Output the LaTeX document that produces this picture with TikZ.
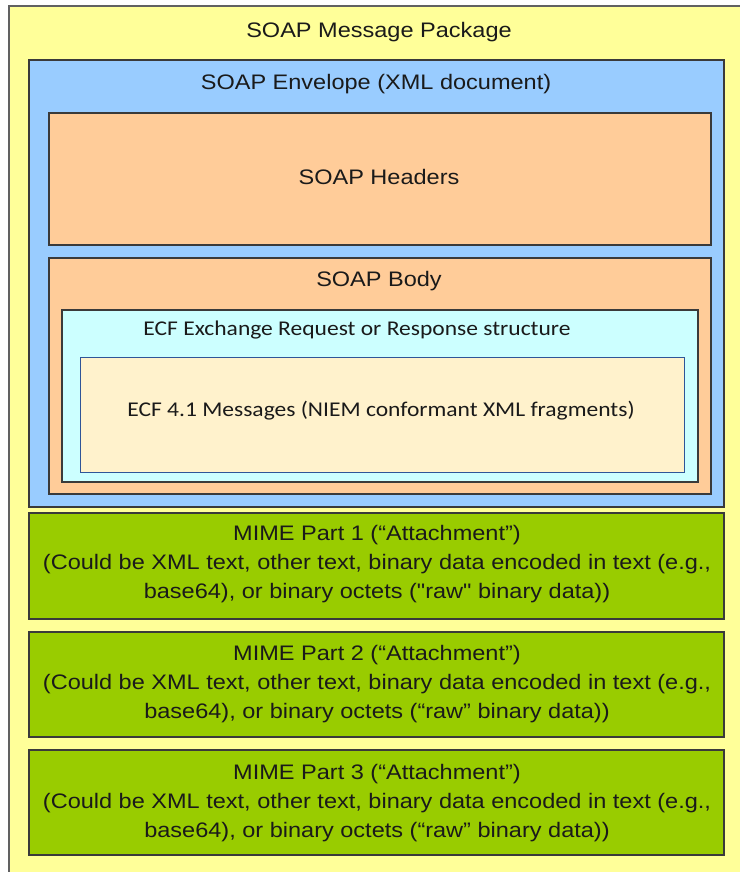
\documentclass[tikz,border=0pt]{standalone}
\usepackage{fontspec}
\setmainfont{Liberation Sans}[FakeStretch=1.12]
\newfontfamily\ecffont{Carlito}[FakeStretch=1.12]
\newfontfamily\qfont{Liberation Sans}[FakeStretch=1.12]
\usetikzlibrary{shadows}
\definecolor{pkgyellow}{HTML}{FFFF99}
\definecolor{envblue}{HTML}{99CCFF}
\definecolor{peach}{HTML}{FFCC99}
\definecolor{lcyan}{HTML}{CCFFFF}
\definecolor{cream}{HTML}{FFF2CC}
\definecolor{mimegreen}{HTML}{99CC00}
\definecolor{edge}{HTML}{3A3A3A}
\definecolor{inneredge}{HTML}{2F5597}
\definecolor{txt}{HTML}{1A1A1A}
\newcommand{\sq}{{\qfont"}}
\tikzset{
  box/.style={rectangle, anchor=north west, inner sep=0pt, outer sep=0pt,
    draw=edge, line width=1.2pt,
    drop shadow={shadow xshift=1.2pt, shadow yshift=-1.2pt, opacity=0.45, fill=black}},
  lbl/.style={inner sep=0pt, text=txt, font=\fontsize{21}{24}\selectfont},
  ecflbl/.style={inner sep=0pt, text=txt, font=\ecffont\fontsize{21}{24}\selectfont},
  mimelbl/.style={inner sep=0pt, text=txt, align=center, font=\fontsize{21}{28.8}\selectfont},
}
\newcommand{\bx}[6]{\node[box, fill=#6, minimum width={(#4-#2)*1pt}, minimum height={(#5-#3)*1pt}] (#1) at (#2,#3) {};}
\begin{document}
\begin{tikzpicture}[x=1pt,y=-1pt]
\path[use as bounding box] (0,0) rectangle (739,872);
\fill[white] (0,0) rectangle (739,872);
% outer package
\node[rectangle, anchor=north west, inner sep=0pt, outer sep=0pt, draw=edge!80, line width=1.2pt, fill=pkgyellow,
  minimum width=740pt, minimum height=870pt] (pkg) at (9,6) {};
\node[lbl] (pkgt) at (379,32) {SOAP Message Package};
% envelope
\bx{env}{29}{60}{724}{507}{envblue}
\node[lbl] (envt) at (376,84) {SOAP Envelope (XML document)};
\bx{hdr}{49}{113}{711}{245}{peach}
\node[lbl] (hdrt) at (379,177) {SOAP Headers};
\bx{body}{49}{258}{711}{494}{peach}
\node[lbl] (bodyt) at (379,281) {SOAP Body};
\bx{ecf}{62}{310}{698}{482}{lcyan}
\node[ecflbl] (ecft) at (357,330) {ECF Exchange Request or Response structure};
\node[rectangle, anchor=north west, inner sep=0pt, outer sep=0pt, draw=inneredge, line width=0.9pt, fill=cream,
  minimum width=604pt, minimum height=115pt] (msg) at (80,357) {};
\node[ecflbl] (msgt) at (381,411) {ECF 4.1 Messages (NIEM conformant XML fragments)};
% MIME parts
\bx{m1}{29}{513}{724}{619}{mimegreen}
\node[mimelbl] (m1t) at (377,564) {MIME Part 1 (“Attachment”)\\(Could be XML text, other text, binary data encoded in text (e.g.,\\base64), or binary octets (\sq raw\sq{} binary data))};
\bx{m2}{29}{632}{724}{737}{mimegreen}
\node[mimelbl] (m2t) at (377,684) {MIME Part 2 (“Attachment”)\\(Could be XML text, other text, binary data encoded in text (e.g.,\\base64), or binary octets (“raw” binary data))};
\bx{m3}{29}{750}{724}{855}{mimegreen}
\node[mimelbl] (m3t) at (377,803) {MIME Part 3 (“Attachment”)\\(Could be XML text, other text, binary data encoded in text (e.g.,\\base64), or binary octets (“raw” binary data))};
\end{tikzpicture}
\end{document}
